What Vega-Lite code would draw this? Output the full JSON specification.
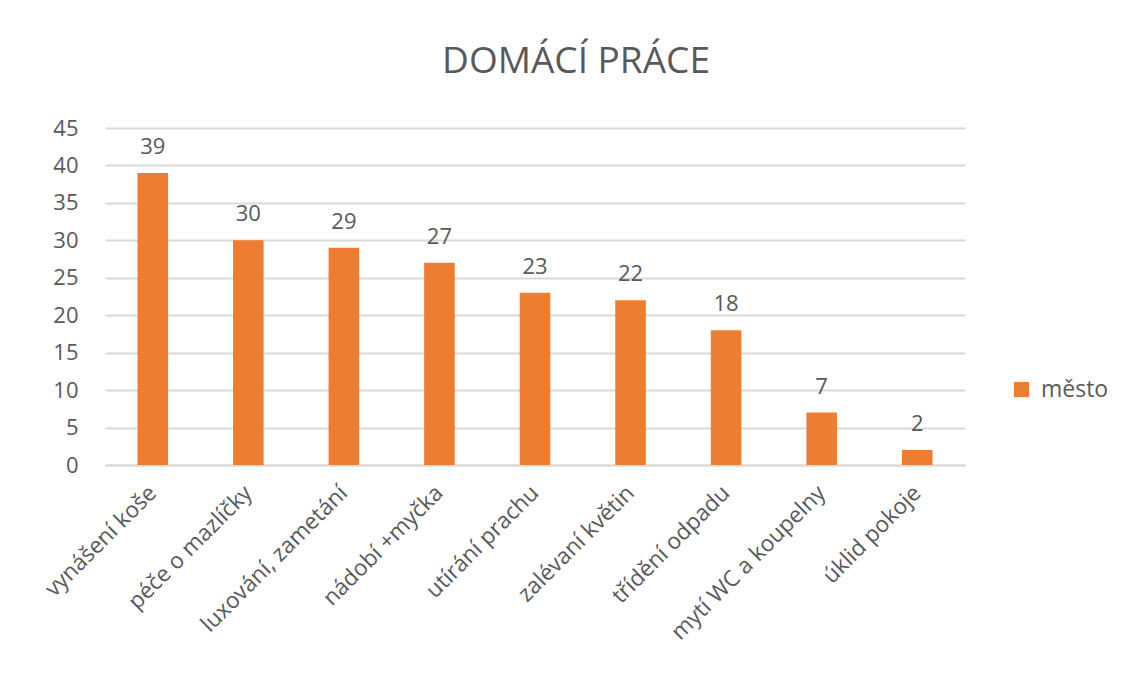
{
  "$schema": "https://vega.github.io/schema/vega-lite/v6.json",
  "autosize": {"type": "none"},
  "width": 860,
  "height": 337,
  "padding": {"left": 105, "top": 128, "right": 163, "bottom": 219},
  "background": "white",
  "title": {
    "text": "DOMÁCÍ PRÁCE",
    "fontSize": 37,
    "font": "Open Sans",
    "fontWeight": "normal",
    "color": "#595959",
    "anchor": "middle",
    "offset": 36,
    "dx": 41
  },
  "data": {
    "values": [
      {"prace": "vynášení koše", "pocet": 39, "serie": "město"},
      {"prace": "péče o mazlíčky", "pocet": 30, "serie": "město"},
      {"prace": "luxování, zametání", "pocet": 29, "serie": "město"},
      {"prace": "nádobí +myčka", "pocet": 27, "serie": "město"},
      {"prace": "utírání prachu", "pocet": 23, "serie": "město"},
      {"prace": "zalévaní květin", "pocet": 22, "serie": "město"},
      {"prace": "třídění odpadu", "pocet": 18, "serie": "město"},
      {"prace": "mytí WC a koupelny", "pocet": 7, "serie": "město"},
      {"prace": "úklid pokoje", "pocet": 2, "serie": "město"}
    ]
  },
  "config": {
    "view": {"stroke": null},
    "font": "Open Sans",
    "axis": {"labelFont": "Open Sans", "labelColor": "#595959", "labelFontSize": 22}
  },
  "encoding": {
    "x": {
      "field": "prace",
      "type": "nominal",
      "sort": null,
      "scale": {"paddingInner": 0.68, "paddingOuter": 0.34},
      "axis": {
        "title": null,
        "labelAngle": -45,
        "labelAlign": "right",
        "labelBaseline": "middle",
        "ticks": false,
        "domain": true,
        "domainColor": "#D9D9D9",
        "domainWidth": 2,
        "labelPadding": 24,
        "labelFontSize": 22.5,
        "labelLimit": 400
      }
    },
    "y": {
      "field": "pocet",
      "type": "quantitative",
      "scale": {"domain": [0, 45]},
      "axis": {
        "title": null,
        "values": [0, 5, 10, 15, 20, 25, 30, 35, 40, 45],
        "ticks": false,
        "domain": false,
        "gridColor": "#D9D9D9",
        "gridWidth": 2,
        "labelPadding": 27,
        "labelFontSize": 22
      }
    }
  },
  "layer": [
    {
      "mark": {"type": "bar"},
      "encoding": {
        "color": {
          "field": "serie",
          "type": "nominal",
          "scale": {"range": ["#ED7D31"]},
          "legend": {
            "title": null,
            "orient": "none",
            "legendX": 905,
            "legendY": 250,
            "symbolType": "square",
            "symbolSize": 230,
            "symbolStrokeWidth": 0,
            "labelFontSize": 23,
            "labelColor": "#595959",
            "labelFont": "Open Sans",
            "labelOffset": 8
          }
        }
      }
    },
    {
      "mark": {"type": "text", "baseline": "bottom", "dy": -14, "fontSize": 22, "color": "#595959", "font": "Open Sans"},
      "encoding": {"text": {"field": "pocet", "type": "quantitative"}}
    }
  ]
}
